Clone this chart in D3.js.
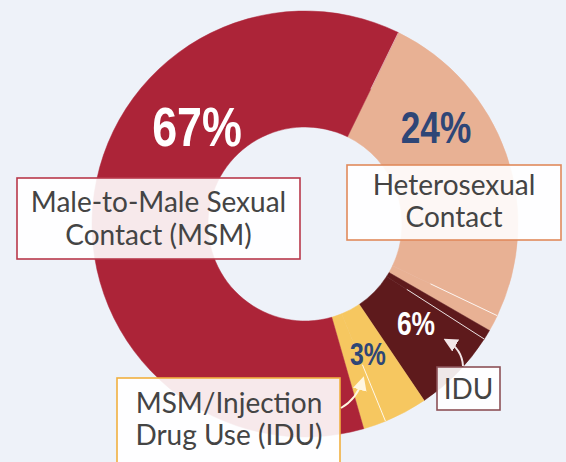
<!DOCTYPE html>
<html lang="en">
<head>
<meta charset="UTF-8" />
<title>Transmission Category Donut</title>
<script src="https://d3js.org/d3.v7.min.js"></script>
<style>
  body { margin: 0; background: #eef2f9; }
  .box { fill: #fff; fill-opacity: 0.9; stroke-width: 1.6; }
  .boxText { font-family: Lato, "Open Sans", sans-serif; fill: #444; text-anchor: middle; }
  .pct { font-family: "Liberation Sans", Arial, sans-serif; font-weight: bold; text-anchor: middle; }
</style>
</head>
<body>
<div id="chart"></div>
<script>
const width = 566, height = 462;

// ring segments as drawn (share of the circle, clockwise from the MSM / heterosexual edge)
const segmentGroup = ["Heterosexual", "Heterosexual", "IDU", "IDU", "MSM/IDU", "MSM/IDU", "MSM"];
const segmentShare = [24.86, 1.25, 0.75, 6.47, 3.28, 1.72, 61.67];

const categories = ["MSM", "Heterosexual", "IDU", "MSM/IDU"];
const categoryColors = ["#ac2438", "#e8b194", "#5e1a1c", "#f6c760"];
const percentLabels = ["67%", "24%", "6%", "3%"];
const boxLabels = [
  ["Male-to-Male Sexual", "Contact (MSM)"],
  ["Heterosexual", "Contact"],
  ["IDU"],
  ["MSM/Injection", "Drug Use (IDU)"]
];

const color = d3.scaleOrdinal().domain(categories).range(categoryColors);

const svg = d3.select("#chart").append("svg")
  .attr("width", width).attr("height", height);

svg.append("rect").attr("width", width).attr("height", height).attr("fill", "#eef2f9");

const cx = 305, cy = 224, outerR = 213, innerR = 97;
const start = 26 * Math.PI / 180;

const pie = d3.pie().sort(null).value(d => d.v)
  .startAngle(start).endAngle(start + 2 * Math.PI);
const arc = d3.arc().innerRadius(innerR).outerRadius(outerR);

const segs = segmentShare.map((v, i) => ({ v, g: segmentGroup[i] }));
const arcsData = pie(segs);

const ring = svg.append("g").attr("transform", `translate(${cx},${cy})`);
ring.selectAll("path")
  .data(arcsData)
  .enter().append("path")
  .attr("d", arc)
  .attr("fill", d => color(d.data.g))
  .attr("stroke", d => color(d.data.g))
  .attr("stroke-width", 0.5);

// thin white dividers inside the groups (and a faint one on the MSM edge)
const dividers = arcsData.filter((d, i) =>
  (i < arcsData.length - 1 && segs[i + 1].g === d.data.g) || i === arcsData.length - 1);
const dividerFrom = [139, 121, 152, 150];
ring.selectAll("line.div")
  .data(dividers)
  .enter().append("line")
  .attr("class", "div")
  .attr("x1", (d, i) => Math.sin(d.endAngle) * dividerFrom[i])
  .attr("y1", (d, i) => -Math.cos(d.endAngle) * dividerFrom[i])
  .attr("x2", d => Math.sin(d.endAngle) * outerR)
  .attr("y2", d => -Math.cos(d.endAngle) * outerR)
  .attr("stroke", "#fff")
  .attr("stroke-opacity", (d, i) => i === 3 ? 0.5 : 0.85)
  .attr("stroke-width", 1);

// label boxes
const boxes = [
  { x: 17, y: 178, w: 283, h: 81, stroke: "#b8394b", tx: 158.5, base: [211.5, 245], size: 28 },
  { x: 347, y: 165, w: 214, h: 75, stroke: "#e08a5c", tx: 454, base: [195, 227], size: 28 },
  { x: 437, y: 367, w: 63, h: 43, stroke: "#8c5157", tx: 468.5, base: [398.5], size: 28 },
  { x: 117, y: 378, w: 223, h: 100, stroke: "#f0b040", tx: 229, base: [413, 445], size: 28 }
];

boxes.forEach((b, i) => {
  svg.append("rect").attr("class", "box")
    .attr("x", b.x).attr("y", b.y).attr("width", b.w).attr("height", b.h)
    .attr("stroke", b.stroke);
  boxLabels[i].forEach((t, j) => {
    svg.append("text").attr("class", "boxText")
      .attr("x", b.tx).attr("y", b.base[j])
      .attr("font-size", b.size)
      .text(t);
  });
});

// percent labels (condensed look: horizontal squeeze)
const squeeze = 0.8;
const pctPos = [
  { x: 197, y: 146, size: 56, fill: "#fff" },
  { x: 436, y: 143, size: 44, fill: "#2e4677" },
  { x: 416, y: 335, size: 33, fill: "#fff" },
  { x: 368, y: 365, size: 31, fill: "#2e4677" }
];
svg.selectAll("text.pct")
  .data(percentLabels)
  .enter().append("text")
  .attr("class", "pct")
  .attr("transform", (d, i) => `translate(${pctPos[i].x},${pctPos[i].y}) scale(${squeeze},1)`)
  .attr("font-size", (d, i) => pctPos[i].size)
  .attr("fill", (d, i) => pctPos[i].fill)
  .text(d => d);

// arrows
const defs = svg.append("defs");
[["headA", "#f3e6e8"], ["headB", "#fff6e0"]].forEach(([id, c]) => {
  defs.append("marker").attr("id", id)
    .attr("viewBox", "0 0 10 10").attr("refX", 8).attr("refY", 5)
    .attr("markerWidth", 7).attr("markerHeight", 7)
    .attr("markerUnits", "strokeWidth")
    .attr("orient", "auto")
    .append("path").attr("d", "M0,0 L10,5 L0,10 z").attr("fill", c);
});

svg.append("path")
  .attr("d", "M463,366 Q462,349 446,340")
  .attr("fill", "none").attr("stroke", "#f3e6e8").attr("stroke-width", 2)
  .attr("marker-end", "url(#headA)");

svg.append("path")
  .attr("d", "M341,408 Q357,399 363,379")
  .attr("fill", "none").attr("stroke", "#fff6e0").attr("stroke-width", 2)
  .attr("marker-end", "url(#headB)");
</script>
</body>
</html>
